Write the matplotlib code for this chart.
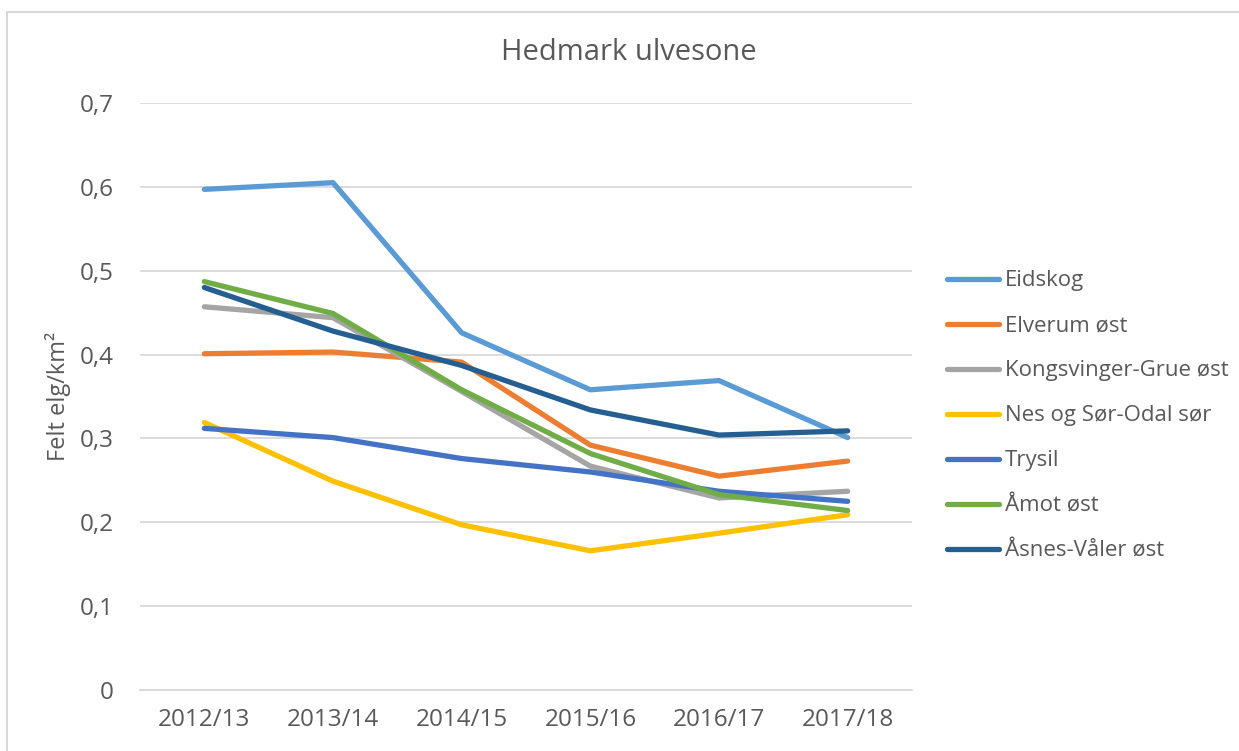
import matplotlib.pyplot as plt
from matplotlib.patches import Rectangle

plt.rcParams['font.family'] = ['Open Sans', 'DejaVu Sans']

seasons = ['2012/13', '2013/14', '2014/15', '2015/16', '2016/17', '2017/18']

eidskog = [0.597, 0.605, 0.426, 0.358, 0.369, 0.301]
elverum_ost = [0.401, 0.403, 0.391, 0.292, 0.255, 0.273]
kongsvinger_grue_ost = [0.457, 0.444, 0.356, 0.267, 0.229, 0.237]
nes_sor_odal_sor = [0.319, 0.249, 0.197, 0.166, 0.187, 0.209]
trysil = [0.312, 0.301, 0.276, 0.260, 0.237, 0.225]
amot_ost = [0.487, 0.449, 0.358, 0.282, 0.233, 0.214]
asnes_valer_ost = [0.480, 0.428, 0.387, 0.334, 0.304, 0.309]

names = ['Eidskog', 'Elverum øst', 'Kongsvinger-Grue øst', 'Nes og Sør-Odal sør',
         'Trysil', 'Åmot øst', 'Åsnes-Våler øst']
colors = ['#5B9BD5', '#ED7D31', '#A5A5A5', '#FFC000', '#4472C4', '#70AD47', '#255E91']
series = [eidskog, elverum_ost, kongsvinger_grue_ost, nes_sor_odal_sor,
          trysil, amot_ost, asnes_valer_ost]

txt = '#595959'

fig = plt.figure(figsize=(12.39, 7.51), dpi=100)
fig.patches.append(Rectangle((7 / 1239, -0.01), 1.02, (751 - 12) / 751 + 0.01,
                             transform=fig.transFigure, fill=False,
                             edgecolor='#D9D9D9', linewidth=1.5))

ax = fig.add_axes([140 / 1239, 61 / 751, 772 / 1239, 587 / 751])
x = list(range(len(seasons)))
for vals, name, c in zip(series, names, colors):
    ax.plot(x, vals, color=c, linewidth=3.8, label=name, solid_capstyle='round')

ax.set_xlim(-0.5, 5.5)
ax.set_ylim(0, 0.7)
ax.set_xticks(x)
ax.set_xticklabels(seasons)
yt = [0, 0.1, 0.2, 0.3, 0.4, 0.5, 0.6, 0.7]
ax.set_yticks(yt)
ax.set_yticklabels([('%g' % v).replace('.', ',') for v in yt])
ax.tick_params(length=0, labelsize=17.5, colors=txt)
ax.tick_params(axis='x', pad=13)
ax.tick_params(axis='y', pad=19)
ax.grid(axis='y', color='#D9D9D9', linewidth=1.3)
ax.set_axisbelow(True)
for s in ['top', 'right', 'left']:
    ax.spines[s].set_visible(False)
ax.spines['bottom'].set_color('#D9D9D9')
ax.spines['bottom'].set_linewidth(1.3)

ax.set_ylabel('Felt elg/km²', fontsize=17, color=txt)
ax.yaxis.set_label_coords(-0.09, 0.5)
fig.text(629 / 1239, 1 - 52 / 751, 'Hedmark ulvesone', ha='center', va='center',
         fontsize=21, color=txt)

ax.legend(loc='center left', bbox_to_anchor=(1.02, 0.467), frameon=False,
          fontsize=16, labelcolor=txt, handlelength=2.3, handletextpad=0.3,
          labelspacing=1.08)

fig.savefig('out.png', dpi=100)
